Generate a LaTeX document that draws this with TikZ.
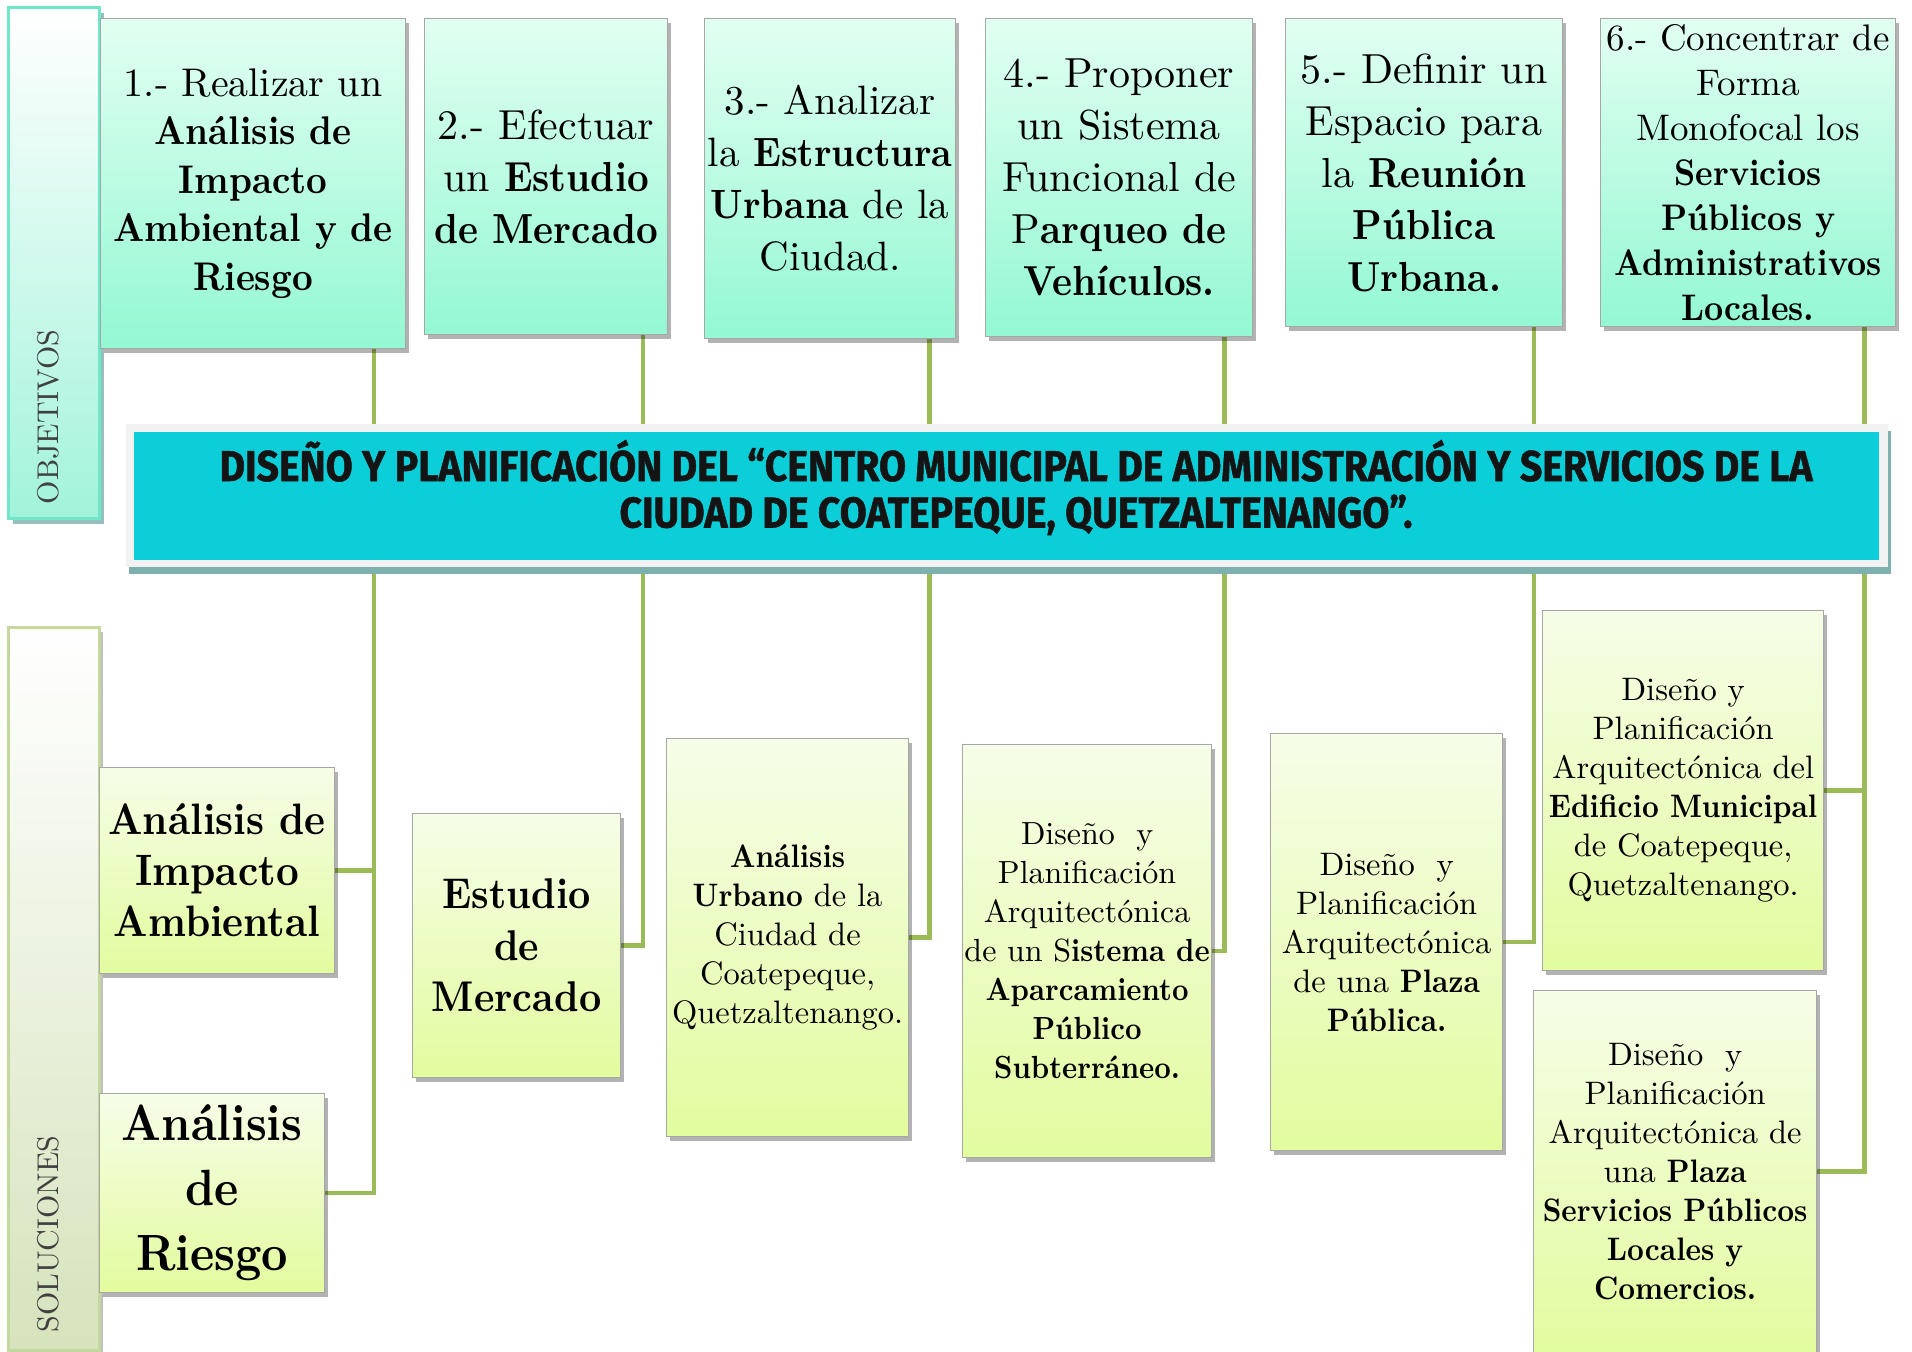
\documentclass[tikz,border=0pt]{standalone}
\usepackage{graphicx}
\usepackage{fontspec}
\setmainfont{lmroman10-regular.otf}[BoldFont=lmroman10-bold.otf, BoldFeatures={FakeStretch=0.9}]
\newfontfamily\titlefont{Fira Sans}[BoldFeatures={FakeBold=1.2}]
\usetikzlibrary{shadows,backgrounds}
\definecolor{mintT}{HTML}{E2FFF2}
\definecolor{mintB}{HTML}{93F8D3}
\definecolor{limeT}{HTML}{F6FDE8}
\definecolor{limeB}{HTML}{E2FC9E}
\definecolor{connC}{HTML}{9BBB59}
\definecolor{aquaB}{HTML}{A2F3DA}
\definecolor{aquaD}{HTML}{6FE7C8}
\definecolor{oliveB}{HTML}{D6E3BC}
\definecolor{oliveD}{HTML}{C4D79D}
\definecolor{cyanT}{HTML}{0BCED8}
\definecolor{frameC}{HTML}{F2F2F2}
\definecolor{tealShadow}{HTML}{7FB0B0}
\tikzset{
  boxbase/.style={rectangle, draw=gray!70, line width=1.2pt, anchor=north west, align=center, inner sep=2pt, text=black,
    drop shadow={shadow xshift=3pt, shadow yshift=-4pt, fill=black, opacity=0.3}},
  objbox/.style={boxbase, top color=mintT, bottom color=mintB},
  solbox/.style={boxbase, top color=limeT, bottom color=limeB},
  connline/.style={draw=connC, line width=4.5pt},
  barlabel/.style={rotate=90, text=black!75, font={\fontsize{30}{36}\selectfont}, inner sep=0pt},
  titletext/.style={anchor=base, inner sep=0pt, text=black!92, font={\titlefont\fontsize{43}{47}\selectfont\bfseries}}
}
\begin{document}
\begin{tikzpicture}[x=1pt,y=-1pt]
\useasboundingbox (0,0) rectangle (1912,1352);

% side bars
\node[rectangle, anchor=north west, minimum width=91pt, minimum height=511pt, top color=white, bottom color=aquaB,
  draw=aquaD, line width=3pt, drop shadow={shadow xshift=4pt, shadow yshift=-5pt, fill=tealShadow, opacity=0.8}] (objbar) at (7,6) {};
\node[barlabel] (objlab) at (48,417) {OBJETIVOS};
\node[rectangle, anchor=north west, minimum width=91pt, minimum height=723pt, top color=white, bottom color=oliveB,
  draw=oliveD, line width=2.5pt, drop shadow={shadow xshift=4pt, shadow yshift=-5pt, fill=black, opacity=0.25}] (solbar) at (7,626) {};
\node[barlabel] (sollab) at (48,1234) {SOLUCIONES};

% objective boxes
\node[objbox, minimum width=305pt, minimum height=330pt, font={\fontsize{40}{48.5}\selectfont}] (t1) at (100,18)
  {1.- Realizar un\\\textbf{Análisis de}\\\textbf{Impacto}\\\textbf{Ambiental y de}\\\textbf{Riesgo}};
\node[objbox, minimum width=243pt, minimum height=316pt, font={\fontsize{42}{52}\selectfont}] (t2) at (424,18)
  {2.- Efectuar\\un \textbf{Estudio}\\\textbf{de Mercado}};
\node[objbox, minimum width=251pt, minimum height=320pt, inner sep=0pt, font={\fontsize{41}{52}\selectfont}] (t3) at (704,18)
  {3.- Analizar\\la \textbf{Estructura}\\\textbf{Urbana} de la\\Ciudad.};
\node[objbox, minimum width=267pt, minimum height=318pt, font={\fontsize{42}{52}\selectfont}] (t4) at (985,18)
  {4.- Proponer\\un Sistema\\Funcional de\\P\textbf{arqueo de}\\\textbf{Vehículos.}};
\node[objbox, minimum width=277pt, minimum height=308pt, font={\fontsize{42}{52}\selectfont}] (t5) at (1285,18)
  {5.- Definir un\\Espacio para\\la \textbf{Reunión}\\\textbf{Pública}\\\textbf{Urbana.}};
\node[objbox, minimum width=295pt, minimum height=308pt, inner sep=0pt, font={\fontsize{37}{45}\selectfont}] (t6) at (1600,18)
  {6.- Concentrar de\\Forma\\Monofocal los\\\textbf{Servicios}\\\textbf{Públicos y}\\\textbf{Administrativos}\\\textbf{Locales.}};

% title
\node[rectangle, anchor=north west, minimum width=1762pt, minimum height=143pt, fill=frameC, inner sep=0pt,
  drop shadow={shadow xshift=3pt, shadow yshift=-7pt, fill=tealShadow, opacity=1}] (titleframe) at (126,424) {};
\node[rectangle, anchor=north west, minimum width=1745pt, minimum height=128pt, fill=cyanT, inner sep=0pt] (title) at (134,432) {};
\node[titletext] (tl1) at (1016,481) {\resizebox{1593pt}{\height}{DISEÑO Y PLANIFICACIÓN DEL “CENTRO MUNICIPAL DE ADMINISTRACIÓN Y SERVICIOS DE LA}};
\node[titletext] (tl2) at (1016,527.5) {\resizebox{793pt}{\height}{CIUDAD DE COATEPEQUE, QUETZALTENANGO”.}};

% solution boxes
\node[solbox, minimum width=235pt, minimum height=206pt, font={\fontsize{44}{51}\selectfont}] (sA) at (99,767)
  {\textbf{Análisis de}\\\textbf{Impacto}\\\textbf{Ambiental}};
\node[solbox, minimum width=225pt, minimum height=199pt, font={\fontsize{51}{65}\selectfont}] (sB) at (99,1093)
  {\textbf{Análisis}\\\textbf{de}\\\textbf{Riesgo}};
\node[solbox, minimum width=208pt, minimum height=264pt, font={\fontsize{43}{51.5}\selectfont}] (sC) at (412,813)
  {\textbf{Estudio}\\\textbf{de}\\\textbf{Mercado}};
\node[solbox, minimum width=242pt, minimum height=398pt, font={\fontsize{32.5}{39}\selectfont}] (sD) at (666,738)
  {\textbf{Análisis}\\\textbf{Urbano} de la\\Ciudad de\\Coatepeque,\\Quetzaltenango.};
\node[solbox, minimum width=249pt, minimum height=413pt, inner sep=0pt, font={\fontsize{32}{39}\selectfont}] (sE) at (962,744)
  {Diseño~~y\\Planificación\\Arquitectónica\\de un S\textbf{istema de}\\\textbf{Aparcamiento}\\\textbf{Público}\\\textbf{Subterráneo.}};
\node[solbox, minimum width=232pt, minimum height=417pt, font={\fontsize{32.5}{39}\selectfont}] (sF) at (1270,733)
  {Diseño~~y\\Planificación\\Arquitectónica\\de una \textbf{Plaza}\\\textbf{Pública.}};
\node[solbox, minimum width=281pt, minimum height=360pt, font={\fontsize{32.5}{39}\selectfont}] (sG) at (1542,610)
  {Diseño y\\Planificación\\Arquitectónica del\\\textbf{Edificio Municipal}\\de Coatepeque,\\Quetzaltenango.};
\node[solbox, minimum width=283pt, minimum height=362pt, font={\fontsize{32.5}{39}\selectfont}] (sH) at (1533,990)
  {Diseño~~y\\Planificación\\Arquitectónica de\\una \textbf{Plaza}\\\textbf{Servicios Públicos}\\\textbf{Locales y}\\\textbf{Comercios.}};

% connector columns
\coordinate (x1) at (374,0);
\coordinate (x2) at (643,0);
\coordinate (x3) at (929.5,0);
\coordinate (x4) at (1224.5,0);
\coordinate (x5) at (1534,0);
\coordinate (x6) at (1864.5,0);

\begin{pgfonlayer}{background}
\fill[white] (0,0) rectangle (1912,1352);
\draw[connline] (t1.south -| x1) -- (titleframe.north -| x1);
\draw[connline] (t2.south -| x2) -- (titleframe.north -| x2);
\draw[connline] (t3.south -| x3) -- (titleframe.north -| x3);
\draw[connline] (t4.south -| x4) -- (titleframe.north -| x4);
\draw[connline] (t5.south -| x5) -- (titleframe.north -| x5);
\draw[connline] (t6.south -| x6) -- (titleframe.north -| x6);
\draw[connline] (titleframe.south -| x1) |- (sA.east);
\draw[connline] (titleframe.south -| x1) |- (sB.east);
\draw[connline] (titleframe.south -| x2) |- (sC.east);
\draw[connline] (titleframe.south -| x3) |- (sD.east);
\draw[connline] (titleframe.south -| x4) |- (sE.east);
\draw[connline] (titleframe.south -| x5) |- (sF.east);
\draw[connline] (titleframe.south -| x6) |- (sG.east);
\draw[connline] (titleframe.south -| x6) |- (sH.east);
\end{pgfonlayer}
\end{tikzpicture}
\end{document}
